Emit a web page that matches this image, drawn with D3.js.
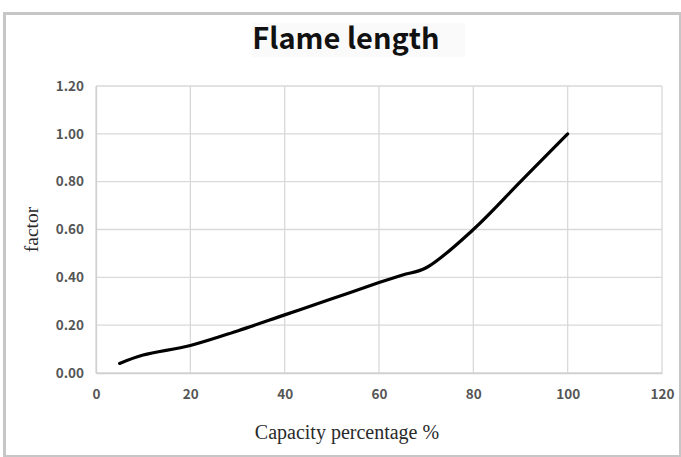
<!DOCTYPE html>
<html><head><meta charset="utf-8">
<script src="https://cdn.jsdelivr.net/npm/d3@7"></script>
<style>
html,body{margin:0;padding:0;background:#fff;}
svg{display:block;}
</style></head>
<body>
<svg id="chart" width="681" height="457"></svg>
<script>
const title = "Flame length";
const xLabel = "Capacity percentage %";
const yLabel = "factor";
const xTicks = [0, 20, 40, 60, 80, 100, 120];
const yTicks = [0, 0.2, 0.4, 0.6, 0.8, 1.0, 1.2];
const capacity = [5, 10, 20, 30, 40, 50, 60, 65, 70, 80, 90, 100];
const factor = [0.04, 0.075, 0.115, 0.176, 0.243, 0.31, 0.378, 0.41, 0.44, 0.60, 0.80, 1.00];

const svg = d3.select("#chart");
const W = 681, H = 457;
const m = {left: 96, right: 681 - 662, top: 86, bottom: 457 - 373};

// outer border
svg.append("rect").attr("x", 4.5).attr("y", 13.5).attr("width", 676).attr("height", 443)
  .attr("fill", "#fff").attr("stroke", "#c6c6c6").attr("stroke-width", 3);

// title
svg.append("rect").attr("x", 252).attr("y", 23).attr("width", 213).attr("height", 34).attr("fill", "#fafafa");
svg.append("text").attr("x", 346).attr("y", 49).attr("text-anchor", "middle")
  .attr("font-family", "'Noto Sans CJK SC','Noto Sans',sans-serif").attr("font-weight", "bold")
  .attr("font-size", 29).attr("fill", "#111").text(title);

const x = d3.scaleLinear().domain([0, 120]).range([m.left, W - m.right]);
const y = d3.scaleLinear().domain([0, 1.2]).range([H - m.bottom, m.top]);

// gridlines
svg.append("g").selectAll("line").data(xTicks).join("line")
  .attr("x1", d => x(d)).attr("x2", d => x(d)).attr("y1", y(0)).attr("y2", y(1.2))
  .attr("stroke", "#d9d9d9").attr("stroke-width", 1.3);
svg.append("g").selectAll("line").data(yTicks).join("line")
  .attr("y1", d => y(d)).attr("y2", d => y(d)).attr("x1", x(0)).attr("x2", x(120))
  .attr("stroke", "#d9d9d9").attr("stroke-width", 1.3);

// axes
const xAxis = svg.append("g").attr("transform", `translate(0,${y(0)})`)
  .call(d3.axisBottom(x).tickValues(xTicks).tickSize(0).tickPadding(16).tickFormat(d3.format("d")));
xAxis.select(".domain").attr("stroke", "#d0d0d0").attr("stroke-width", 1.3);
const yAxis = svg.append("g").attr("transform", `translate(${x(0)},0)`)
  .call(d3.axisLeft(y).tickValues(yTicks).tickSize(0).tickPadding(12).tickFormat(d3.format(".2f")));
yAxis.select(".domain").attr("stroke", "#d0d0d0").attr("stroke-width", 1.3);
svg.selectAll(".tick text").attr("font-family", "'Noto Sans CJK SC','Noto Sans',sans-serif")
  .attr("font-size", 13.5).attr("font-weight", "bold").attr("fill", "#555");

// axis titles
svg.append("text").attr("x", 347).attr("y", 439).attr("text-anchor", "middle")
  .attr("font-family", "'Liberation Serif','DejaVu Serif',serif").attr("font-size", 20)
  .attr("fill", "#2a2a2a").text(xLabel);
svg.append("text").attr("transform", `translate(38,${y(0.6)}) rotate(-90)`).attr("text-anchor", "middle")
  .attr("font-family", "'Liberation Serif','DejaVu Serif',serif").attr("font-size", 19.5)
  .attr("fill", "#2a2a2a").text(yLabel);

// curve
const pts = capacity.map((c, i) => [c, factor[i]]);
svg.append("path").datum(pts)
  .attr("d", d3.line().x(d => x(d[0])).y(d => y(d[1])).curve(d3.curveCatmullRom.alpha(0.5)))
  .attr("fill", "none").attr("stroke", "#000").attr("stroke-width", 3.2).attr("stroke-linecap", "round");
</script>
</body></html>
